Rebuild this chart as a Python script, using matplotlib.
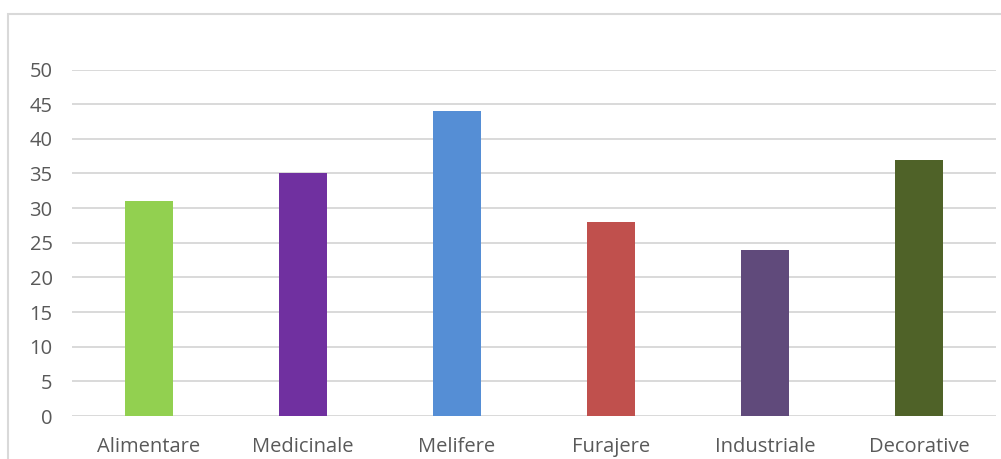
"""Bar chart of plant categories, Excel-style."""

import matplotlib
matplotlib.use("Agg")
import matplotlib.pyplot as plt
from matplotlib.patches import Rectangle


CATEGORIES = ["Alimentare", "Medicinale", "Melifere", "Furajere", "Industriale", "Decorative"]
VALUES = [31, 35, 44, 28, 24, 37]
BAR_COLORS = ["#92D050", "#7030A0", "#558ED5", "#C0504D", "#604A7B", "#4F6228"]
Y_TICKS = [0, 5, 10, 15, 20, 25, 30, 35, 40, 45, 50]

TEXT_COLOR = "#595959"
GRID_COLOR = "#D9D9D9"


def main() -> int:
    plt.rcParams["font.family"] = ["Open Sans", "DejaVu Sans"]
    fig = plt.figure(figsize=(10.01, 4.59), dpi=100)
    fig.patch.set_facecolor("white")

    # chart area border, cut off at right and bottom like the screenshot
    fig.add_artist(
        Rectangle(
            (8 / 1001, -0.05), 1.1, 1 - 14 / 459 + 0.05,
            transform=fig.transFigure, fill=False,
            edgecolor=GRID_COLOR, linewidth=1.5, zorder=0,
        )
    )

    ax = fig.add_axes([72 / 1001, 1 - 416 / 459, (996 - 72) / 1001, (416 - 69.5) / 459])
    x = range(len(CATEGORIES))
    ax.bar(x, VALUES, width=0.31, color=BAR_COLORS, zorder=3)

    ax.set_xlim(-0.5, len(CATEGORIES) - 0.5)
    ax.set_ylim(0, 50)
    ax.set_yticks(Y_TICKS)
    ax.set_xticks(list(x))
    ax.set_xticklabels(CATEGORIES)
    ax.yaxis.grid(True, color=GRID_COLOR, linewidth=1.4, zorder=0)
    ax.set_axisbelow(True)
    for spine in ax.spines.values():
        spine.set_visible(False)
    ax.tick_params(axis="both", length=0, labelsize=14.5, labelcolor=TEXT_COLOR)
    ax.tick_params(axis="x", pad=15)
    ax.tick_params(axis="y", pad=14)

    fig.savefig("out.png", dpi=100, facecolor="white")
    plt.close(fig)
    return 0


if __name__ == "__main__":
    raise SystemExit(main())
